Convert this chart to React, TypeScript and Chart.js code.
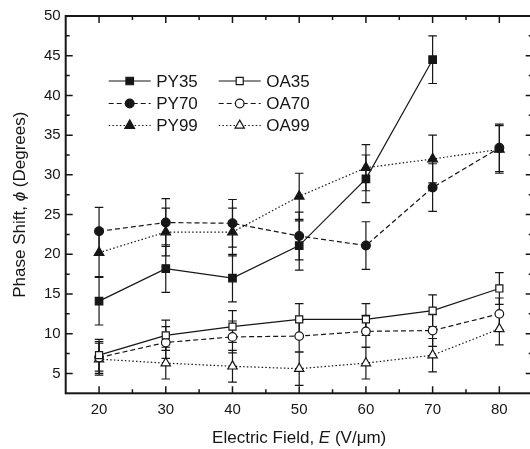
import React, { useEffect, useRef } from 'react';
import { Chart, registerables } from 'chart.js';

Chart.register(...registerables);

// ---- data ----
const fieldE = [20, 30, 40, 50, 60, 70, 80];

const py35 = [14.1, 18.2, 17.0, 21.1, 29.5, 44.5];
const py35Err = [3.0, 3.0, 3.0, 3.1, 3.0, 3.0];
const py70 = [22.9, 24.0, 23.9, 22.3, 21.1, 28.4, 33.4];
const py70Err = [3.0, 3.0, 3.0, 3.0, 3.0, 3.0, 3.0];
const py99 = [20.2, 22.8, 22.8, 27.3, 30.9, 32.0, 33.2];
const py99Err = [3.0, 3.0, 3.0, 2.9, 2.9, 3.0, 3.0];
const oa35 = [7.3, 9.8, 10.9, 11.8, 11.8, 12.9, 15.7];
const oa35Err = [2.0, 1.9, 2.0, 2.0, 2.0, 2.0, 2.0];
const oa70 = [7.0, 8.9, 9.6, 9.7, 10.3, 10.4, 12.5];
const oa70Err = [2.0, 2.0, 2.0, 2.0, 2.0, 2.0, 2.0];
const oa99 = [6.8, 6.3, 5.9, 5.6, 6.3, 7.3, 10.6];
const oa99Err = [2.0, 2.0, 2.0, 2.1, 2.0, 2.1, 2.0];

const seriesNames = ['PY35', 'PY70', 'PY99', 'OA35', 'OA70', 'OA99'];
const xTickLabels = ['20', '30', '40', '50', '60', '70', '80'];
const yTickLabels = ['5', '10', '15', '20', '25', '30', '35', '40', '45', '50'];

const INK = '#161616';
const FONT = '"Liberation Sans", Arial, Helvetica, sans-serif';

type Style = 'rect' | 'circle' | 'triangle';

function drawMarker(ctx: CanvasRenderingContext2D, style: Style, x: number, y: number, r: number, fill: string) {
  ctx.beginPath();
  if (style === 'rect') {
    const s = Math.SQRT1_2 * r;
    ctx.rect(x - s, y - s, 2 * s, 2 * s);
  } else if (style === 'circle') {
    ctx.arc(x, y, r, 0, Math.PI * 2);
  } else {
    let rad = 0;
    ctx.moveTo(x + Math.sin(rad) * r, y - Math.cos(rad) * r);
    rad += (2 * Math.PI) / 3;
    ctx.lineTo(x + Math.sin(rad) * r, y - Math.cos(rad) * r);
    rad += (2 * Math.PI) / 3;
    ctx.lineTo(x + Math.sin(rad) * r, y - Math.cos(rad) * r);
    ctx.closePath();
  }
  ctx.fillStyle = fill;
  ctx.fill();
  ctx.lineWidth = 1.2;
  ctx.strokeStyle = INK;
  ctx.setLineDash([]);
  ctx.stroke();
}

export default function App() {
  const ref = useRef<HTMLCanvasElement | null>(null);

  useEffect(() => {
    if (!ref.current) return;
    const values = [py35, py70, py99, oa35, oa70, oa99];
    const errors = [py35Err, py70Err, py99Err, oa35Err, oa70Err, oa99Err];
    const styles: Style[] = ['rect', 'circle', 'triangle', 'rect', 'circle', 'triangle'];
    const radii = [5.3, 4.4, 5.6, 5.0, 4.3, 5.4];
    const dashes = [[], [5, 3], [1.5, 2.2], [], [5, 3], [1.5, 2.2]];
    const fills = [INK, INK, INK, '#ffffff', '#ffffff', '#ffffff'];

    const datasets = values.map((vals, i) => ({
      label: seriesNames[i],
      data: vals.map((v, j) => ({ x: fieldE[j], y: v })),
      borderColor: INK,
      borderWidth: 1.2,
      borderDash: dashes[i],
      pointStyle: styles[i],
      pointRadius: radii[i],
      pointBackgroundColor: fills[i],
      pointBorderColor: INK,
      pointBorderWidth: 1.2,
      fill: false,
      tension: 0,
    }));

    const errorBars = {
      id: 'errorBars',
      beforeDatasetsDraw(chart: any) {
        const ctx = chart.ctx as CanvasRenderingContext2D;
        const xs = chart.scales.x;
        const ys = chart.scales.y;
        ctx.save();
        ctx.strokeStyle = INK;
        ctx.lineWidth = 1.2;
        ctx.setLineDash([]);
        values.forEach((vals, i) => {
          vals.forEach((v, j) => {
            const e = errors[i][j];
            const x = xs.getPixelForValue(fieldE[j]);
            const y1 = ys.getPixelForValue(v + e);
            const y2 = ys.getPixelForValue(v - e);
            ctx.beginPath();
            ctx.moveTo(x, y1);
            ctx.lineTo(x, y2);
            ctx.moveTo(x - 4.3, y1);
            ctx.lineTo(x + 4.3, y1);
            ctx.moveTo(x - 4.3, y2);
            ctx.lineTo(x + 4.3, y2);
            ctx.stroke();
          });
        });
        ctx.restore();
      },
    };

    const frame = {
      id: 'frame',
      afterDraw(chart: any) {
        const ctx = chart.ctx as CanvasRenderingContext2D;
        const a = chart.chartArea;
        const xs = chart.scales.x;
        const ys = chart.scales.y;
        ctx.save();
        ctx.strokeStyle = INK;
        ctx.setLineDash([]);
        // ticks
        ctx.lineWidth = 1.5;
        ctx.beginPath();
        xs.ticks.forEach((t: any) => {
          const v = t.value;
          if (v <= xs.min || v >= xs.max) return;
          const major = xTickLabels.includes(String(v));
          const x = xs.getPixelForValue(v);
          const L = major ? 7 : 4;
          ctx.moveTo(x, a.bottom);
          ctx.lineTo(x, a.bottom - L);
          ctx.moveTo(x, a.top);
          ctx.lineTo(x, a.top + L);
        });
        ys.ticks.forEach((t: any) => {
          const v = t.value;
          if (v <= ys.min || v >= ys.max) return;
          const major = yTickLabels.includes(String(v));
          const y = ys.getPixelForValue(v);
          const L = major ? 7 : 4;
          ctx.moveTo(a.left, y);
          ctx.lineTo(a.left + L, y);
          ctx.moveTo(a.right, y);
          ctx.lineTo(a.right - L, y);
        });
        ctx.stroke();
        // box
        ctx.lineWidth = 2;
        ctx.strokeRect(a.left, a.top, a.right - a.left, a.bottom - a.top);

        // axis titles (mixed italic)
        ctx.fillStyle = INK;
        ctx.textBaseline = 'middle';
        const drawParts = (parts: [string, boolean][], cx: number, cy: number, rotate: boolean) => {
          ctx.save();
          ctx.translate(cx, cy);
          if (rotate) ctx.rotate(-Math.PI / 2);
          let total = 0;
          const widths = parts.map(([s, it]) => {
            ctx.font = `${it ? 'italic ' : ''}17px ${FONT}`;
            const w = ctx.measureText(s).width;
            total += w;
            return w;
          });
          let x = -total / 2;
          ctx.textAlign = 'left';
          parts.forEach(([s, it], k) => {
            ctx.font = `${it ? 'italic ' : ''}17px ${FONT}`;
            ctx.fillText(s, x, 0);
            x += widths[k];
          });
          ctx.restore();
        };
        drawParts(
          [
            ['Electric Field, ', false],
            ['E', true],
            [' (V/\u03bcm)', false],
          ],
          (a.left + a.right) / 2,
          438,
          false
        );
        drawParts(
          [
            ['Phase Shift, ', false],
            ['\u03d5', true],
            [' (Degrees)', false],
          ],
          20,
          (a.top + a.bottom) / 2,
          true
        );

        // legend
        const ox = a.left;
        const oy = a.top;
        const cols = [
          { lx0: 43, lx1: 85, mx: 64, tx: 90.5 },
          { lx0: 153, lx1: 195, mx: 174, tx: 200.5 },
        ];
        const rows = [65, 87.5, 109.5];
        ctx.font = `17px ${FONT}`;
        ctx.textAlign = 'left';
        ctx.textBaseline = 'middle';
        chart.data.datasets.forEach((ds: any, i: number) => {
          const c = cols[Math.floor(i / 3)];
          const ry = oy + rows[i % 3];
          ctx.save();
          ctx.strokeStyle = INK;
          ctx.lineWidth = 1.2;
          ctx.setLineDash(ds.borderDash || []);
          ctx.beginPath();
          ctx.moveTo(ox + c.lx0, ry);
          ctx.lineTo(ox + c.lx1, ry);
          ctx.stroke();
          ctx.restore();
          drawMarker(ctx, ds.pointStyle, ox + c.mx, ry, ds.pointRadius, ds.pointBackgroundColor);
          ctx.fillStyle = INK;
          ctx.font = `17px ${FONT}`;
          ctx.fillText(ds.label, ox + c.tx, ry + 1);
        });
        ctx.restore();
      },
    };

    const chart = new Chart(ref.current, {
      type: 'line',
      data: { datasets: datasets as any },
      options: {
        animation: false,
        responsive: false,
        devicePixelRatio: 1,
        layout: { padding: { left: 0, top: 16, right: 12.3, bottom: 0 } },
        plugins: { legend: { display: false }, tooltip: { enabled: false } },
        scales: {
          x: {
            type: 'linear',
            min: 15,
            max: 85,
            grid: { display: false, drawTicks: false },
            border: { display: false },
            ticks: {
              stepSize: 5,
              autoSkip: false,
              maxRotation: 0,
              padding: 8,
              color: INK,
              font: { family: FONT, size: 15 },
              callback: (v: any) => (xTickLabels.includes(String(v)) ? String(v) : ''),
            },
            afterFit: (s: any) => {
              s.height = 55.7;
            },
          },
          y: {
            type: 'linear',
            min: 2.5,
            max: 50,
            grid: { display: false, drawTicks: false },
            border: { display: false },
            ticks: {
              stepSize: 2.5,
              autoSkip: false,
              padding: 5,
              color: INK,
              font: { family: FONT, size: 15 },
              callback: (v: any) => (yTickLabels.includes(String(v)) ? String(v) : ''),
            },
            afterFit: (s: any) => {
              s.width = 65.7;
            },
          },
        },
      },
      plugins: [errorBars, frame],
    });
    return () => chart.destroy();
  }, []);

  return (
    <div
      style={{
        position: 'fixed',
        left: 0,
        top: 0,
        width: 530,
        height: 449,
        overflow: 'hidden',
        background: '#ffffff',
      }}
    >
      <canvas ref={ref} width={545} height={449} style={{ display: 'block' }} />
    </div>
  );
}
